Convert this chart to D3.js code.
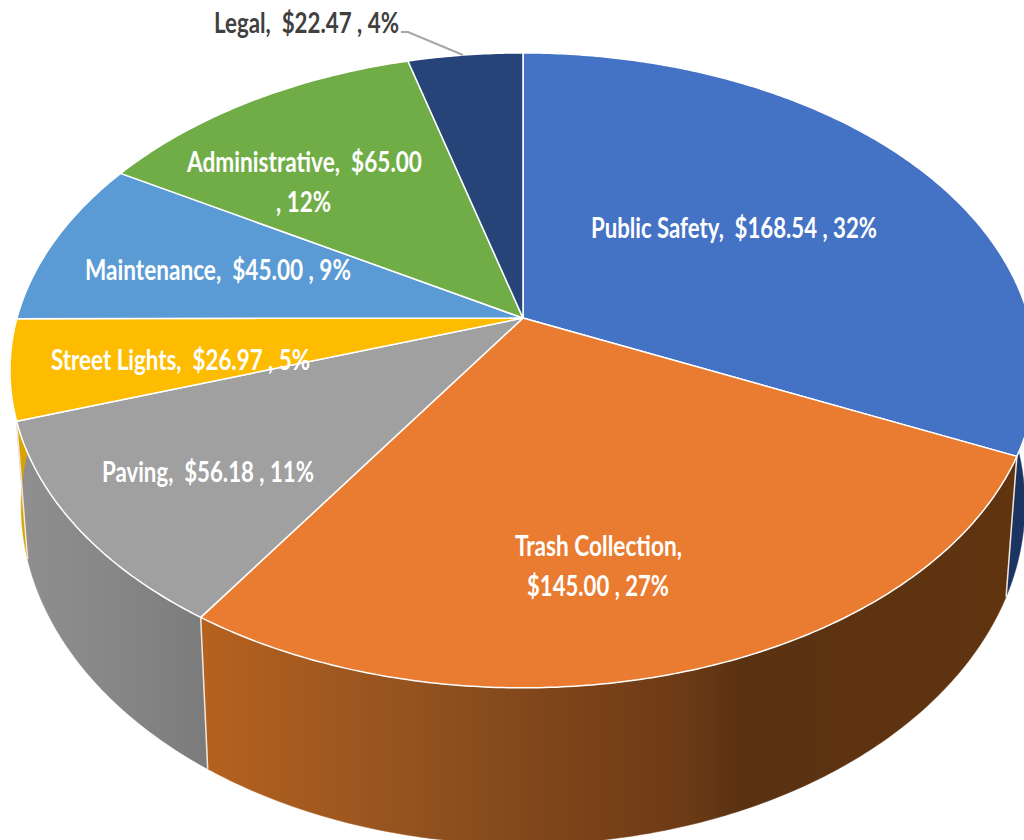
<!DOCTYPE html>
<html>
<head>
<meta charset="utf-8">
<script src="https://cdn.jsdelivr.net/npm/d3@7"></script>
<style>
  html, body { margin: 0; padding: 0; background: #fff; overflow: hidden; }
  svg { display: block; }
  text { font-family: Lato, "Open Sans", sans-serif; font-weight: 700; white-space: pre; }
</style>
</head>
<body>
<svg id="chart" width="1024" height="840"></svg>
<script>
const categories = ['Public Safety', 'Trash Collection', 'Paving', 'Street Lights', 'Maintenance', 'Administrative', 'Legal']
const amounts = [168.54, 145.00, 56.18, 26.97, 45.00, 65.00, 22.47]
const percents = [32, 27, 11, 5, 9, 12, 4]
// where the label wraps: 0 none, 1 after the name, 2 after the amount
const labelWraps = [0, 1, 0, 0, 0, 2, 0]

const topColors = ['#4472c4', '#e97c30', '#a0a0a0', '#fdbc00', '#5b9bd5', '#70ad47', '#264478']

// hand placed labels, one row per text line: left, right, baseline
const labelBoxes = [
  [[591, 877, 238]],
  [[515, 682, 556], [527, 669, 596]],
  [[102, 314, 482]],
  [[51, 310, 370]],
  [[85, 351, 280]],
  [[187, 422, 172], [276, 331, 212]],
  [[214, 399, 33]]
]

const $svg = d3.select('#chart')
const $defs = $svg.append('defs')

const CENTER_X = 523
const PERSPECTIVE = 0.165
const TOP_FACE = { y: 318, rx: 506, ry: 308.8 }
const BOTTOM_FACE = { y: 449, rx: 495, ry: 330 }

// angle is clockwise from 12 o'clock, same as d3.pie
function project(face, angle, r = 1) {
  const u = Math.sin(angle) * r
  const v = -Math.cos(angle) * r
  const w = 1 - PERSPECTIVE * v
  return [CENTER_X + face.rx * u / w, face.y + face.ry * v / w]
}

function rim(face, a0, a1) {
  const n = Math.max(2, Math.ceil((a1 - a0) / 0.01))
  return d3.range(n + 1).map(i => project(face, a0 + (a1 - a0) * i / n))
}

const line = d3.line()
const slices = d3.pie().sort(null).value(d => d)(amounts)

function addGradient(id, stops) {
  const g = $defs.append('linearGradient')
    .attr('id', id)
    .attr('gradientUnits', 'userSpaceOnUse')
    .attr('x1', 0).attr('x2', 1024)
    .attr('y1', 0).attr('y2', 0)
  stops.forEach(s => g.append('stop').attr('offset', s[0] / 1024).attr('stop-color', s[1]))
}

addGradient('wallTrash', [
  [207, '#b5611f'], [420, '#92521f'], [540, '#80461a'],
  [680, '#6e3b16'], [740, '#5a3212'], [1024, '#61340f']
])
addGradient('wallPaving', [[20, '#8f8f8f'], [120, '#868686'], [207, '#7b7b7b']])

const wallFills = ['#1c3461', 'url(#wallTrash)', 'url(#wallPaving)', '#d9a400']

// only the front walls show, draw them far side first
const HIDDEN_UNTIL = Math.PI / 2
const walls = slices.slice(0, 4).map((d, i) => ({
  a0: Math.max(d.startAngle, HIDDEN_UNTIL),
  a1: d.endAngle,
  fill: wallFills[i]
}))

$svg.append('g').selectAll('path')
  .data(walls)
  .enter()
  .append('path')
  .attr('d', d => line(rim(TOP_FACE, d.a0, d.a1).concat(rim(BOTTOM_FACE, d.a0, d.a1).reverse())) + 'Z')
  .attr('fill', d => d.fill)
  .attr('stroke', d => d.fill)
  .attr('stroke-width', 0.5)

// seams between the walls
$svg.append('g').selectAll('line')
  .data(slices.slice(0, 3))
  .enter()
  .append('line')
  .attr('x1', d => project(TOP_FACE, d.endAngle)[0])
  .attr('y1', d => project(TOP_FACE, d.endAngle)[1])
  .attr('x2', d => project(BOTTOM_FACE, d.endAngle)[0])
  .attr('y2', d => project(BOTTOM_FACE, d.endAngle)[1])
  .attr('stroke', '#f1e6dc')
  .attr('stroke-width', 1.5)

$svg.append('g').selectAll('path')
  .data(slices)
  .enter()
  .append('path')
  .attr('d', d => line([project(TOP_FACE, 0, 0)].concat(rim(TOP_FACE, d.startAngle, d.endAngle))) + 'Z')
  .attr('fill', (d, i) => topColors[i])
  .attr('stroke', '#fff')
  .attr('stroke-width', 1.5)
  .attr('stroke-linejoin', 'round')

// leader for the one label outside the pie
$svg.append('polyline')
  .attr('points', '401,32 408,32 463,55')
  .attr('fill', 'none')
  .attr('stroke', '#a6a6a6')
  .attr('stroke-width', 2)

function labelLines(i) {
  const name = `${categories[i]},`
  const money = `$${amounts[i].toFixed(2)}`
  const pct = `, ${percents[i]}%`
  if (labelWraps[i] === 1) return [name, `${money} ${pct}`]
  if (labelWraps[i] === 2) return [`${name}  ${money}`, pct]
  return [`${name}  ${money} ${pct}`]
}

const labelRows = categories.flatMap((c, i) => labelLines(i).map((t, j) => ({
  text: t,
  box: labelBoxes[i][j],
  outside: c === 'Legal'
})))

$svg.append('g').selectAll('text')
  .data(labelRows)
  .enter()
  .append('text')
  .attr('x', d => d.box[0])
  .attr('y', d => d.box[2])
  .attr('textLength', d => d.box[1] - d.box[0])
  .attr('lengthAdjust', 'spacingAndGlyphs')
  .attr('font-size', 28)
  .attr('fill', d => d.outside ? '#404040' : '#fff')
  .text(d => d.text)
</script>
</body>
</html>
